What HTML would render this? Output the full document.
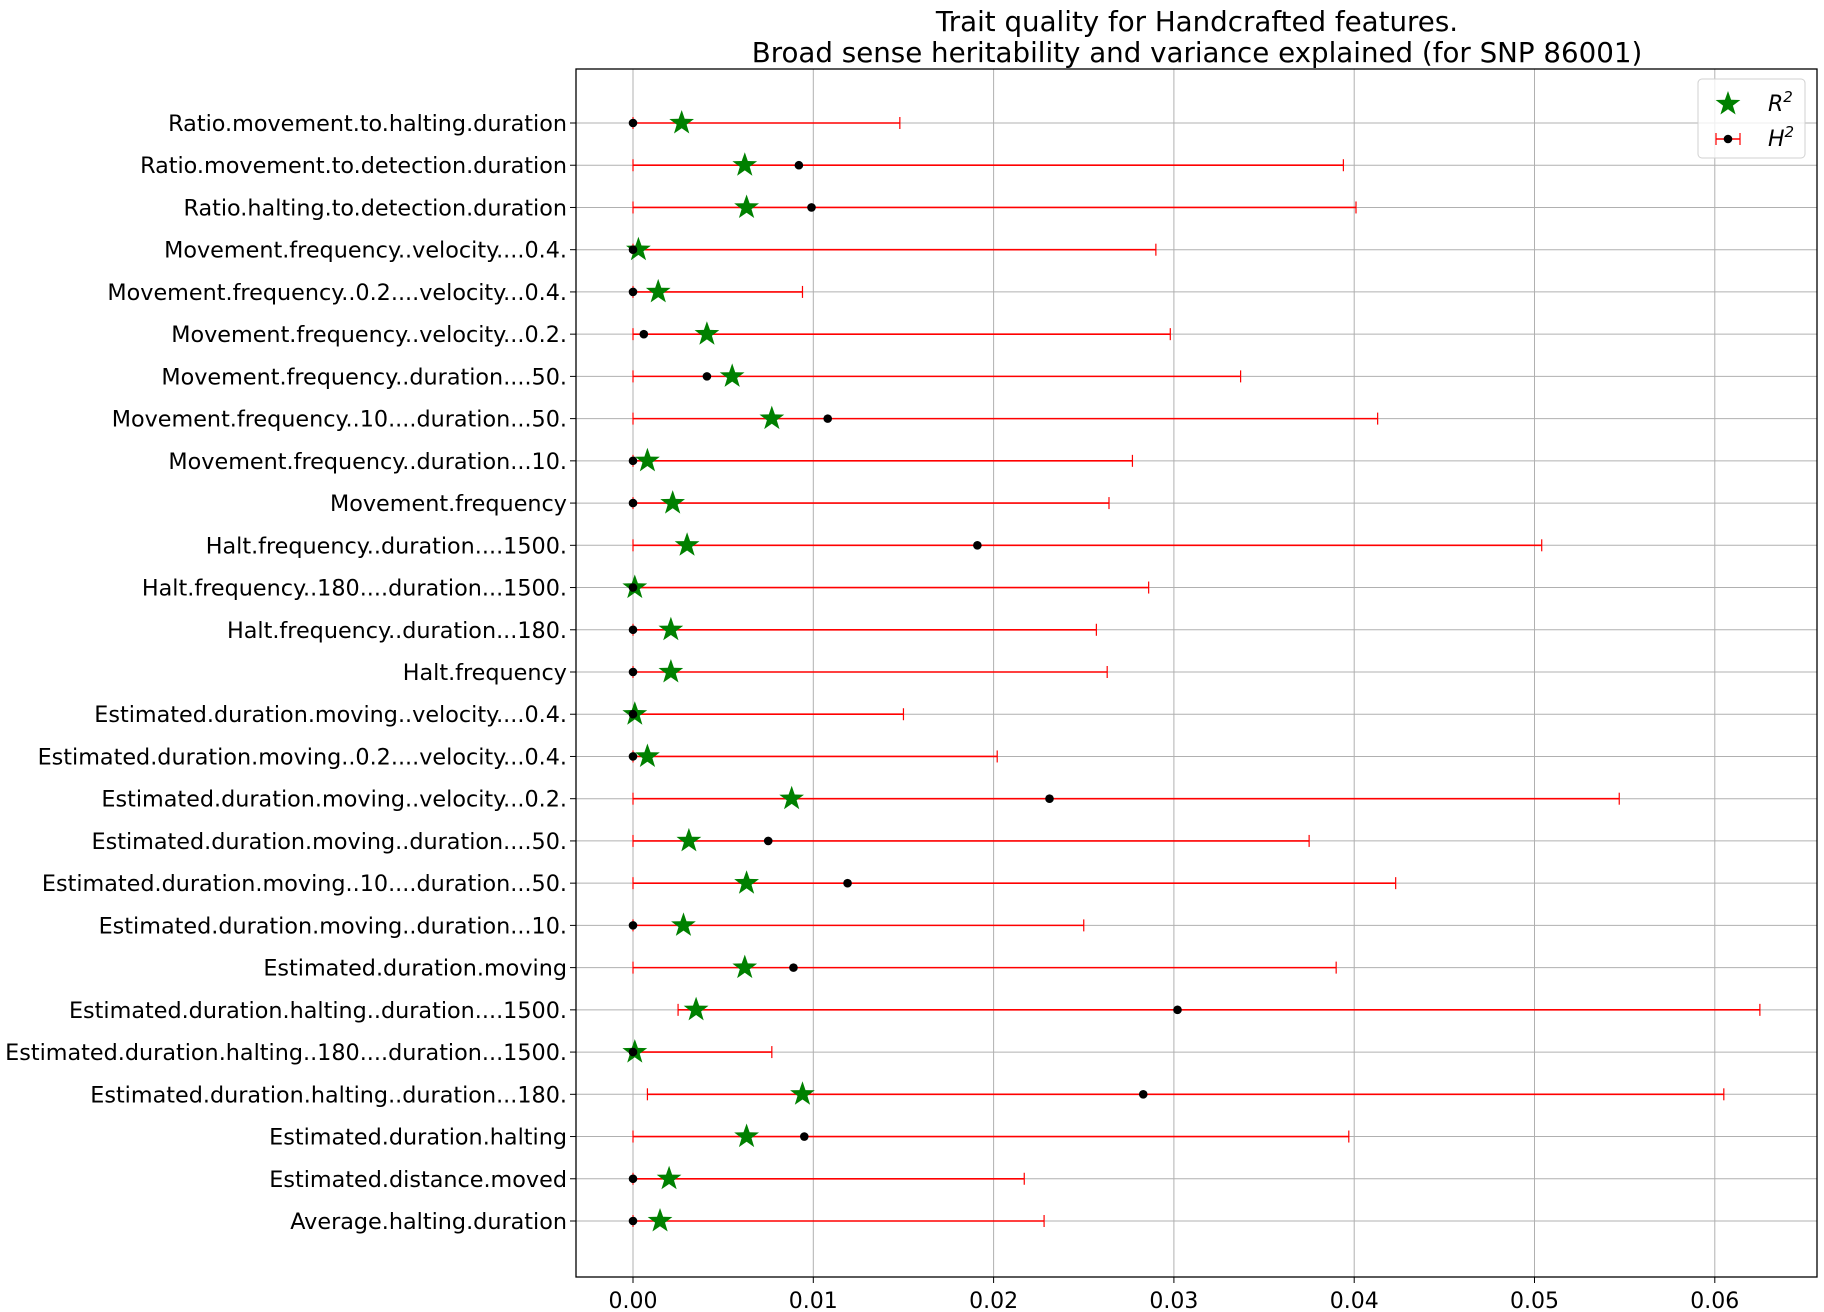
<!DOCTYPE html>
<html><head><meta charset="utf-8"><style>
html,body{margin:0;padding:0;background:#fff;}
svg{display:block;font-family:"DejaVu Sans","Liberation Sans",sans-serif;}
</style></head><body>
<svg id="chart" width="1824" height="1312" viewBox="0 0 1824 1312" xmlns="http://www.w3.org/2000/svg">
<text x="1197" y="31" font-size="27.7" text-anchor="middle">Trait quality for Handcrafted features.</text>
<text x="1197" y="62" font-size="27.7" text-anchor="middle">Broad sense heritability and variance explained (for SNP 86001)</text>
<g id="grid"></g>
<g id="marks"></g>
<g id="axes"></g>
</svg>
<script>
const categories = ["Ratio.movement.to.halting.duration","Ratio.movement.to.detection.duration","Ratio.halting.to.detection.duration","Movement.frequency..velocity....0.4.","Movement.frequency..0.2....velocity...0.4.","Movement.frequency..velocity...0.2.","Movement.frequency..duration....50.","Movement.frequency..10....duration...50.","Movement.frequency..duration...10.","Movement.frequency","Halt.frequency..duration....1500.","Halt.frequency..180....duration...1500.","Halt.frequency..duration...180.","Halt.frequency","Estimated.duration.moving..velocity....0.4.","Estimated.duration.moving..0.2....velocity...0.4.","Estimated.duration.moving..velocity...0.2.","Estimated.duration.moving..duration....50.","Estimated.duration.moving..10....duration...50.","Estimated.duration.moving..duration...10.","Estimated.duration.moving","Estimated.duration.halting..duration....1500.","Estimated.duration.halting..180....duration...1500.","Estimated.duration.halting..duration...180.","Estimated.duration.halting","Estimated.distance.moved","Average.halting.duration"];
const r2 = [0.0027,0.0062,0.0063,0.0003,0.0014,0.0041,0.0055,0.0077,0.0008,0.0022,0.003,0.0001,0.0021,0.0021,0.0001,0.0008,0.0088,0.0031,0.0063,0.0028,0.0062,0.0035,0.0001,0.0094,0.0063,0.002,0.0015];
const h2 = [0,0.0092,0.0099,0,0,0.0006,0.0041,0.0108,0,0,0.0191,0,0,0,0,0,0.0231,0.0075,0.0119,0,0.0089,0.0302,0,0.0283,0.0095,0,0];
const h2Low = [0,0,0,0,0,0,0,0,0,0,0,0,0,0,0,0,0,0,0,0,0,0.0025,0,0.0008,0,0,0];
const h2High = [0.0148,0.0394,0.0401,0.029,0.0094,0.0298,0.0337,0.0413,0.0277,0.0264,0.0504,0.0286,0.0257,0.0263,0.015,0.0202,0.0547,0.0375,0.0423,0.025,0.039,0.0625,0.0077,0.0605,0.0397,0.0217,0.0228];
const xTicks = [0,0.01,0.02,0.03,0.04,0.05,0.06];
const xTickLabels = ["0.00","0.01","0.02","0.03","0.04","0.05","0.06"];

const NS="http://www.w3.org/2000/svg";
const L=576,R=1817,T=69,B=1277;
const x0=633,xPer=18030;
function xs(v){return x0+v*xPer;}
const rowTop=123,rowBot=1221;
function ys(i){return rowTop+i*(rowBot-rowTop)/(categories.length-1);}
function mk(tag,attrs,parent){const e=document.createElementNS(NS,tag);for(const k in attrs)e.setAttribute(k,attrs[k]);parent.appendChild(e);return e;}
const grid=document.getElementById('grid'),marks=document.getElementById('marks'),axes=document.getElementById('axes');
function star(cx,cy,r){let p=[];for(let k=0;k<10;k++){const a=-Math.PI/2+k*Math.PI/5;const rr=k%2?r*0.4:r;p.push((cx+rr*Math.cos(a)).toFixed(1)+","+(cy+rr*Math.sin(a)).toFixed(1));}return p.join(" ");}

xTicks.forEach((t,i)=>{
  const g=mk('line',{x1:xs(t),x2:xs(t),y1:T,y2:B,stroke:'#b0b0b0','stroke-width':1},grid);
  
  
  mk('line',{x1:xs(t),x2:xs(t),y1:B,y2:B+6,stroke:'#000','stroke-width':1},axes);
  const lb=mk('text',{x:xs(t),y:B+31,'font-size':22,'text-anchor':'middle'},axes);
  lb.textContent=xTickLabels[i];
  
  
});
categories.forEach((c,i)=>{
  const y=ys(i);
  const g=mk('line',{x1:L,x2:R,y1:y,y2:y,stroke:'#b0b0b0','stroke-width':1},grid);
  
  
  mk('line',{x1:L-6,x2:L,y1:y,y2:y,stroke:'#000','stroke-width':1},axes);
  const lb=mk('text',{x:L-9,y:y+8,'font-size':22.3,'text-anchor':'end'},axes);
  lb.textContent=c;
  
  
  const eb=mk('g',{},marks);
  
  
  mk('line',{x1:xs(h2Low[i]),x2:xs(h2High[i]),y1:y,y2:y,stroke:'#ff0000','stroke-width':1.6},eb);
  mk('line',{x1:xs(h2Low[i]),x2:xs(h2Low[i]),y1:y-6,y2:y+6,stroke:'#ff0000','stroke-width':1.2},eb);
  mk('line',{x1:xs(h2High[i]),x2:xs(h2High[i]),y1:y-6,y2:y+6,stroke:'#ff0000','stroke-width':1.2},eb);
  const st=mk('polygon',{points:star(xs(r2[i]),y,13),fill:'#008000'},marks);
  
  
  const d=mk('circle',{cx:xs(h2[i]),cy:y,r:4.3,fill:'#000'},marks);
  
  
});
const fr=mk('rect',{x:L,y:T,width:R-L,height:B-T,fill:'none',stroke:'#000','stroke-width':1.3},axes);


const lg=mk('g',{},axes);


mk('rect',{x:1698,y:79,width:107,height:79,rx:4,fill:'#fff','fill-opacity':0.8,stroke:'#d0d0d0'},lg);
const ls=mk('polygon',{points:star(1728,104,13),fill:'#008000'},lg);


const lt1=mk('text',{x:1768,y:111,'font-size':22,'font-style':'italic'},lg);
lt1.innerHTML='R<tspan dy="-9" font-size="15">2</tspan>';


const lh=mk('g',{},lg);


mk('line',{x1:1716,x2:1740,y1:139,y2:139,stroke:'#ff0000','stroke-width':1.6},lh);
mk('line',{x1:1716,x2:1716,y1:133,y2:145,stroke:'#ff0000','stroke-width':1.2},lh);
mk('line',{x1:1740,x2:1740,y1:133,y2:145,stroke:'#ff0000','stroke-width':1.2},lh);
mk('circle',{cx:1728,cy:139,r:4.3,fill:'#000'},lh);
const lt2=mk('text',{x:1768,y:146,'font-size':22,'font-style':'italic'},lg);
lt2.innerHTML='H<tspan dy="-9" font-size="15">2</tspan>';


</script>
</body></html>
